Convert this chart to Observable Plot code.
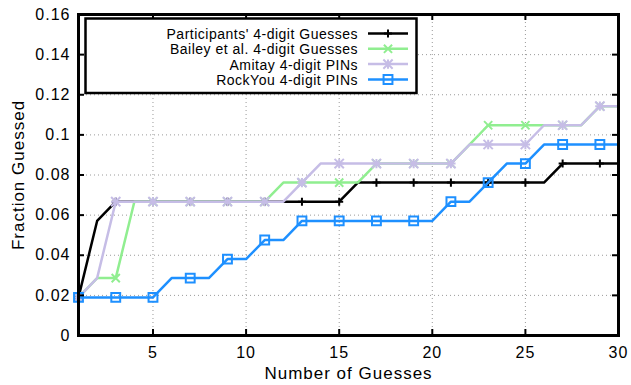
<!DOCTYPE html>
<html>
<head>
<meta charset="utf-8">
<script src="https://cdn.jsdelivr.net/npm/d3@7"></script>
<script src="https://cdn.jsdelivr.net/npm/@observablehq/plot@0.6"></script>
<style>
  body { margin: 0; background: #fff; }
  #wrap { position: relative; width: 631px; height: 385px; font-family: "Liberation Sans", Arial, Helvetica, sans-serif; }
  #wrap svg { letter-spacing: 1px; }
</style>
</head>
<body>
<div id="wrap"></div>
<script>
// ---- data ----
const guesses = [1,2,3,4,5,6,7,8,9,10,11,12,13,14,15,16,17,18,19,20,21,22,23,24,25,26,27,28,29,30];
const seriesNames = [
  "Participants' 4-digit Guesses",
  "Bailey et al. 4-digit Guesses",
  "Amitay 4-digit PINs",
  "RockYou 4-digit PINs"
];
const participants = [0.0190,0.0571,0.0667,0.0667,0.0667,0.0667,0.0667,0.0667,0.0667,0.0667,0.0667,0.0667,0.0667,0.0667,0.0667,0.0762,0.0762,0.0762,0.0762,0.0762,0.0762,0.0762,0.0762,0.0762,0.0762,0.0762,0.0857,0.0857,0.0857,0.0857];
const bailey       = [0.0190,0.0286,0.0286,0.0667,0.0667,0.0667,0.0667,0.0667,0.0667,0.0667,0.0667,0.0762,0.0762,0.0762,0.0762,0.0762,0.0857,0.0857,0.0857,0.0857,0.0857,0.0952,0.1048,0.1048,0.1048,0.1048,0.1048,0.1048,0.1143,0.1143];
const amitay       = [0.0190,0.0286,0.0667,0.0667,0.0667,0.0667,0.0667,0.0667,0.0667,0.0667,0.0667,0.0667,0.0762,0.0857,0.0857,0.0857,0.0857,0.0857,0.0857,0.0857,0.0857,0.0952,0.0952,0.0952,0.0952,0.1048,0.1048,0.1048,0.1143,0.1143];
const rockyou      = [0.0190,0.0190,0.0190,0.0190,0.0190,0.0286,0.0286,0.0286,0.0381,0.0381,0.0476,0.0476,0.0571,0.0571,0.0571,0.0571,0.0571,0.0571,0.0571,0.0571,0.0667,0.0667,0.0762,0.0857,0.0857,0.0952,0.0952,0.0952,0.0952,0.0952];
const xTicks = [5,10,15,20,25,30];
const yTicks = [0,0.02,0.04,0.06,0.08,0.1,0.12,0.14,0.16];
const xLabel = "Number of Guesses";
const yLabel = "Fraction Guessed";

// ---- styling ----
const colors = ["#000000", "#90ee90", "#c6bde6", "#1e90ff"];
const markerSets = [
  [{symbol: "plus", r: 2.7}],
  [{symbol: "times", r: 3.8}],
  [{symbol: "plus", r: 3.1}, {symbol: "times", r: 4.3}],
  [{symbol: "square", r: 5}]
];
const allSeries = [participants, bailey, amitay, rockyou];

const W = 631, H = 385, mL = 78, mR = 13, mT = 14, mB = 50;
const innerW = W - mL - mR, innerH = H - mT - mB;
const font = '"Liberation Sans", Arial, Helvetica, sans-serif';

const seriesMarks = [];
allSeries.forEach((vals, si) => {
  const rows = guesses.map((x, i) => ({x, y: vals[i], s: seriesNames[si]}));
  seriesMarks.push(Plot.line(rows, {x: "x", y: "y", stroke: colors[si], strokeWidth: 2.5, curve: "linear"}));
  markerSets[si].forEach(m => {
    seriesMarks.push(Plot.dot(rows, {
      x: "x", y: "y", filter: d => d.x % 2 === 1,
      symbol: m.symbol, r: m.r, stroke: colors[si], fill: "none", strokeWidth: 2
    }));
  });
});

const chart = Plot.plot({
  width: W, height: H,
  marginLeft: mL, marginRight: mR, marginTop: mT, marginBottom: mB,
  x: {domain: [1, 30]},
  y: {domain: [0, 0.16]},
  style: {fontFamily: font, fontSize: "16px", background: "white", color: "black", overflow: "visible"},
  marks: [
    Plot.ruleX(xTicks, {x: d => d, stroke: "#9a9a9a", strokeWidth: 1, strokeDasharray: "1,3"}),
    Plot.ruleY(yTicks, {y: d => d, stroke: "#9a9a9a", strokeWidth: 1, strokeDasharray: "1,3"}),
    ...seriesMarks,
    Plot.ruleX(xTicks, {x: d => d, insetTop: innerH - 6, stroke: "black", strokeWidth: 2}),
    Plot.ruleX(xTicks, {x: d => d, insetBottom: innerH - 6, stroke: "black", strokeWidth: 2}),
    Plot.ruleY(yTicks, {y: d => d, insetRight: innerW - 6, stroke: "black", strokeWidth: 2}),
    Plot.ruleY(yTicks, {y: d => d, insetLeft: innerW - 6, stroke: "black", strokeWidth: 2}),
    Plot.frame({stroke: "black", strokeWidth: 3}),
    Plot.axisX({ticks: xTicks, tickSize: 0, tickPadding: 11, label: null, fontSize: 16}),
    Plot.axisY({ticks: yTicks, tickSize: 0, tickPadding: 8, tickFormat: d3.format("~g"), label: null, fontSize: 16}),
    Plot.text([xLabel], {text: d => d, frameAnchor: "bottom", textAnchor: "middle", lineAnchor: "top", dy: 31, fontSize: 17}),
    Plot.text([yLabel], {text: d => d, frameAnchor: "left", textAnchor: "middle", lineAnchor: "middle", dx: -60, rotate: -90, fontSize: 17})
  ]
});
document.getElementById("wrap").appendChild(chart);

// ---- legend (inside plot, top-left) ----
const leg = d3.select("#wrap").append("svg")
  .attr("width", W).attr("height", H)
  .style("position", "absolute").style("left", "0px").style("top", "0px")
  .style("pointer-events", "none")
  .style("font-family", font).style("font-size", "14px").style("letter-spacing", "0.5px");
leg.append("rect").attr("x", 85.5).attr("y", 18.5).attr("width", 331).attr("height", 74.5)
  .attr("fill", "white").attr("stroke", "black").attr("stroke-width", 2.5);
const symMap = {plus: d3.symbolPlus, times: d3.symbolTimes, square: d3.symbolSquare};
const rowBase = [39, 54.3, 69.6, 85];
seriesNames.forEach((name, si) => {
  const yb = rowBase[si];
  const ym = yb - 5.5;
  leg.append("text").attr("x", 358).attr("y", yb).attr("text-anchor", "end").attr("fill", "black").text(name);
  leg.append("line").attr("x1", 368).attr("x2", 408).attr("y1", ym).attr("y2", ym)
    .attr("stroke", colors[si]).attr("stroke-width", 2.5);
  markerSets[si].forEach(m => {
    leg.append("path")
      .attr("d", d3.symbol(symMap[m.symbol], Math.PI * m.r * m.r)())
      .attr("transform", `translate(388,${ym})`)
      .attr("fill", "none").attr("stroke", colors[si]).attr("stroke-width", 2);
  });
});
</script>
</body>
</html>
